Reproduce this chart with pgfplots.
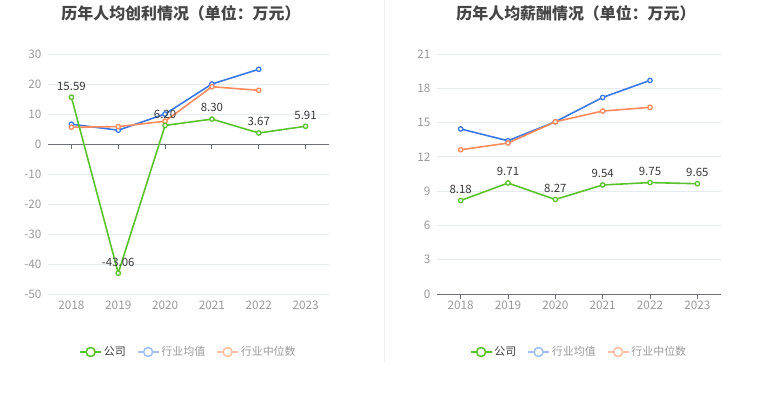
\documentclass[border=0pt]{standalone}
\usepackage{fontspec}
\setmainfont{Noto Sans CJK SC}
\usepackage{pgfplots}
\pgfplotsset{compat=1.18}
\definecolor{cg}{HTML}{5BC22C}
\definecolor{cb}{HTML}{3A78E6}
\definecolor{co}{HTML}{FF8A5C}
\definecolor{cbl}{HTML}{A3C0F3}
\definecolor{col}{HTML}{FFC0A8}
\definecolor{gridc}{HTML}{E6EAF3}
\definecolor{axc}{HTML}{6E7079}
\definecolor{tickc}{HTML}{9A9A9A}
\definecolor{labc}{HTML}{3A3A3A}
\definecolor{titc}{HTML}{464646}
\definecolor{sepc}{HTML}{EEEEEE}
\pgfplotstableread{
x y lab
0 15.59 15.59
1 -43.06 -43.06
2 6.20 6.20
3 8.30 8.30
4 3.67 3.67
5 5.91 5.91
}\profcomp
\pgfplotstableread{
x y
0 6.6
1 4.6
2 10.0
3 20.0
4 24.9
}\profavg
\pgfplotstableread{
x y
0 5.6
1 5.8
2 7.6
3 19.1
4 17.9
}\profmed
\pgfplotstableread{
x y lab
0 8.18 8.18
1 9.71 9.71
2 8.27 8.27
3 9.54 9.54
4 9.75 9.75
5 9.65 9.65
}\paycomp
\pgfplotstableread{
x y
0 14.44
1 13.41
2 15.07
3 17.20
4 18.69
}\payavg
\pgfplotstableread{
x y
0 12.62
1 13.21
2 15.07
3 16.01
4 16.33
}\paymed
\pgfplotsset{
  base/.style={
    scale only axis, height=240bp, anchor=south west,
    xmin=-0.5, xmax=5.5,
    xtick={0,1,2,3,4,5}, xticklabels={2018,2019,2020,2021,2022,2023},
    ymajorgrids, grid style={draw=gridc, line width=0.8bp},
    axis line style={draw=none}, tick style={draw=none},
    ticklabel style={font=\fontsize{11.8}{13}\selectfont, text=tickc},
    xticklabel style={yshift=-3bp},
    yticklabel style={xshift=-3bp},
    clip=false,
    legend style={at={(0.5,-0.2417)}, anchor=center, draw=none, fill=none,
      legend columns=3, font=\fontsize{11}{13}\selectfont,
      /tikz/every even column/.append style={column sep=9bp},
      legend cell align=left, inner sep=0pt},
  },
  ser/.style={line width=1.6bp, mark=*, mark size=2.2bp,
    mark options={fill=white, line width=1.3bp}},
  lab/.style={nodes near coords, point meta=explicit symbolic,
    every node near coord/.append style={anchor=south, yshift=3bp,
      font=\fontsize{11.5}{13}\selectfont, text=labc}},
  limg/.style={legend image code/.code={
    \draw[line width=1.6bp, #1] (0bp,0bp) -- (21bp,0bp);
    \draw[line width=1.6bp, #1, fill=white] (10.5bp,0bp) circle (4.5bp);}},
}
\begin{document}
\begin{tikzpicture}[x=1bp,y=1bp]
\fill[white] (0,0) rectangle (765,393);
\useasboundingbox (0,0) rectangle (765,393);
\draw[sepc, line width=0.8bp] (384.5,393) -- (384.5,30);
\node[font=\bfseries\fontsize{16}{19}\selectfont, text=titc] at (181,380) {历年人均创利情况（单位：万元）};
\node[font=\bfseries\fontsize{16}{19}\selectfont, text=titc] at (576,380) {历年人均薪酬情况（单位：万元）};

\begin{axis}[base, at={(48bp,99bp)}, width=281bp,
  ymin=-50, ymax=30, ytick={-50,-40,-30,-20,-10,0,10,20,30},
  yticklabels={-50,-40,-30,-20,-10,0,10,20,30}]
\draw[axc, line width=1bp] (axis cs:-0.5,0) -- (axis cs:5.5,0);
\pgfplotsinvokeforeach{0,1,2,3,4,5}{\draw[axc, line width=1bp] (axis cs:#1,0) -- ++(0bp,-5bp);}
\addplot[ser, color=cb, forget plot] table[x=x,y=y] {\profavg};
\addplot[ser, color=co, forget plot] table[x=x,y=y] {\profmed};
\addplot[ser, color=cg, lab, forget plot] table[x=x,y=y,meta=lab] {\profcomp};
\addlegendimage{limg=cg}
\addlegendentry{\textcolor{labc}{公司}}
\addlegendimage{limg=cbl}
\addlegendentry{\textcolor{tickc}{行业均值}}
\addlegendimage{limg=col}
\addlegendentry{\textcolor{tickc}{行业中位数}}
\end{axis}

\begin{axis}[base, at={(437bp,99bp)}, width=284bp,
  ymin=0, ymax=21, ytick={0,3,6,9,12,15,18,21},
  yticklabels={0,3,6,9,12,15,18,21}]
\draw[axc, line width=1bp] (axis cs:-0.5,0) -- (axis cs:5.5,0);
\pgfplotsinvokeforeach{0,1,2,3,4,5}{\draw[axc, line width=1bp] (axis cs:#1,0) -- ++(0bp,-5bp);}
\addplot[ser, color=cb, forget plot] table[x=x,y=y] {\payavg};
\addplot[ser, color=co, forget plot] table[x=x,y=y] {\paymed};
\addplot[ser, color=cg, lab, forget plot] table[x=x,y=y,meta=lab] {\paycomp};
\addlegendimage{limg=cg}
\addlegendentry{\textcolor{labc}{公司}}
\addlegendimage{limg=cbl}
\addlegendentry{\textcolor{tickc}{行业均值}}
\addlegendimage{limg=col}
\addlegendentry{\textcolor{tickc}{行业中位数}}
\end{axis}
\end{tikzpicture}
\end{document}
